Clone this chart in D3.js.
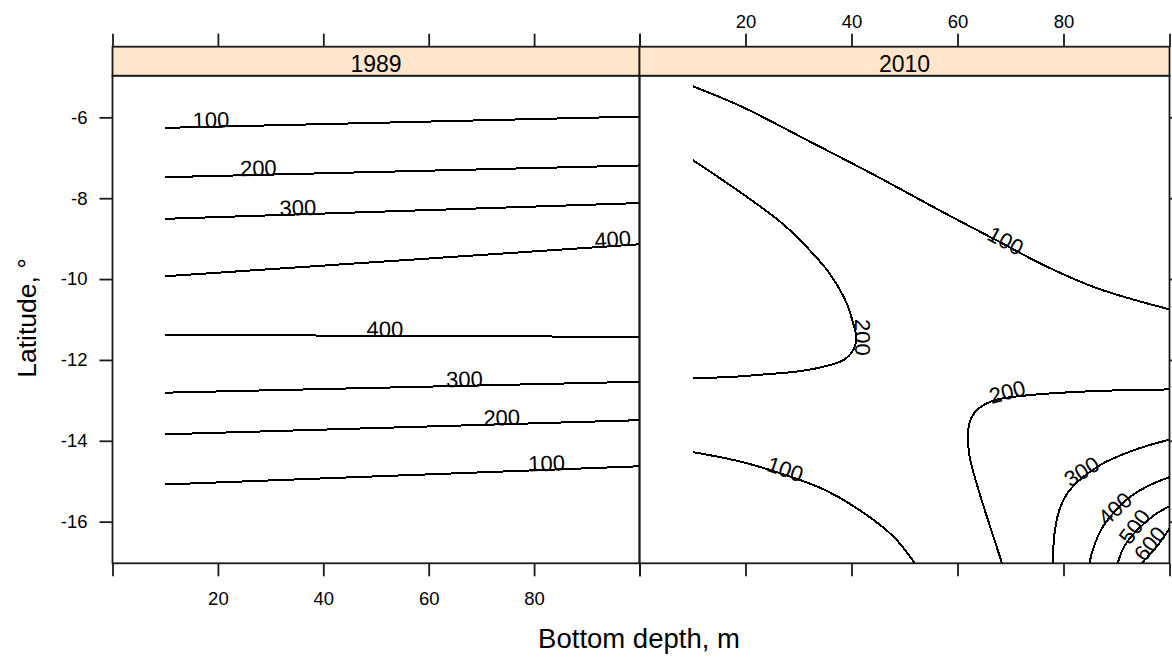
<!DOCTYPE html>
<html><head><meta charset="utf-8">
<script src="https://cdn.jsdelivr.net/npm/d3@7"></script>
<style>
body{margin:0;background:#fff}
svg text{font-family:"Liberation Sans",Arial,sans-serif;fill:#000}
</style>
</head><body>
<svg id="chart" width="1172" height="657"></svg>
<script>
// ---- data ----
const panelNames = ["1989", "2010"];
const xDomain = [0, 100];
const yDomain = [-17.03, -4.97];
const xTickValues = [0, 20, 40, 60, 80, 100];
const xTickLabels = [20, 40, 60, 80];
const yTickValues = [-6, -8, -10, -12, -14, -16];
const xTitle = "Bottom depth, m";
const yTitle = "Latitude, °";

// contour lines: [depth, latitude] points
const lines1989 = [
  {level: 100, pts: [[10, -6.26], [100, -5.98]]},
  {level: 200, pts: [[10, -7.48], [100, -7.19]]},
  {level: 300, pts: [[10, -8.51], [100, -8.12]]},
  {level: 400, pts: [[10, -9.93], [100, -9.14]]},
  {level: 400, pts: [[10, -11.38], [100, -11.43]]},
  {level: 300, pts: [[10, -12.81], [100, -12.54]]},
  {level: 200, pts: [[10, -13.84], [100, -13.49]]},
  {level: 100, pts: [[10, -15.08], [100, -14.63]]}
];
// labels: [level, depth, latitude]
const labels1989 = [
  [100, 18.7, -6.23], [200, 27.7, -7.42], [300, 35.2, -8.40], [400, 95.0, -9.18],
  [400, 51.7, -11.40], [300, 66.8, -12.64], [200, 73.9, -13.59], [100, 82.4, -14.72]
];

const lines2010 = [
  {level: 100, pts: [[10.06, -5.23], [19.2, -5.73], [32.0, -6.59], [44.8, -7.46], [57.6, -8.37], [67.2, -9.03], [76.8, -9.69], [86.4, -10.23], [100, -10.75]]},
  {level: 200, pts: [[10.06, -7.06], [19.2, -7.87], [26.9, -8.62], [32.0, -9.27], [35.8, -9.85], [39.1, -10.60], [40.3, -11.09], [40.9, -11.44], [40.3, -11.76], [38.4, -12.01], [33.3, -12.21], [28.8, -12.30], [24.3, -12.35], [17.3, -12.42], [10.06, -12.45]]},
  {level: 100, pts: [[10.06, -14.28], [19.2, -14.52], [28.8, -14.90], [35.2, -15.23], [41.6, -15.72], [48.0, -16.38], [51.9, -17.02]]},
  {level: 200, pts: [[100, -12.73], [90.9, -12.75], [82.6, -12.79], [73.6, -12.87], [67.2, -12.99], [64.0, -13.20], [62.6, -13.43], [62.1, -13.66], [62.2, -14.32], [64.0, -15.23], [66.6, -16.30], [68.4, -17.03]]},
  {level: 300, pts: [[100, -13.97], [93.1, -14.24], [86.8, -14.61], [81.1, -15.23], [79.2, -15.72], [78.3, -16.30], [78.0, -17.03]]},
  {level: 400, pts: [[100, -14.90], [95.6, -15.14], [91.8, -15.47], [87.4, -16.13], [85.5, -16.71], [84.9, -17.03]]},
  {level: 500, pts: [[100, -15.62], [96.8, -15.87], [91.8, -16.54], [90.2, -17.03]]},
  {level: 600, pts: [[100, -16.17], [97.5, -16.63], [94.7, -17.03]]}
];
const labels2010 = [
  [100, 68.5, -9.20], [200, 40.9, -11.44], [100, 27.1, -14.86], [200, 69.7, -12.95],
  [300, 84.1, -14.90], [400, 90.6, -15.80], [500, 94.4, -16.22], [600, 97.3, -16.65]
];

// ---- layout ----
const svg = d3.select("#chart");
const panelTop = 75.7, panelBottom = 563.3, stripTop = 46.7;
const panelX = [[112.5, 639.5], [639.5, 1169.5]];
const y = d3.scaleLinear().domain(yDomain).range([panelBottom, panelTop]);
const tickLen = 13;
const panelLines = [lines1989, lines2010];
const panelLabels = [labels1989, labels2010];
const frame = "#1a1a1a";

const defs = svg.append("defs");

panelNames.forEach((name, i) => {
  const x = d3.scaleLinear().domain(xDomain).range(panelX[i]);
  const g = svg.append("g");
  const w = panelX[i][1] - panelX[i][0];

  defs.append("clipPath").attr("id", "clip" + i)
    .append("rect").attr("x", panelX[i][0]).attr("y", panelTop).attr("width", w).attr("height", panelBottom - panelTop);

  // contour lines
  const line = d3.line().x(d => x(d[0])).y(d => y(d[1]))
    .curve(i === 0 ? d3.curveLinear : d3.curveCatmullRom.alpha(0.5));
  const cg = g.append("g").attr("clip-path", `url(#clip${i})`);
  cg.selectAll("path").data(panelLines[i]).join("path")
    .attr("d", d => line(d.pts))
    .attr("fill", "none").attr("stroke", "#000").attr("stroke-width", 2)
    .attr("shape-rendering", "crispEdges");

  // labels, rotated along the nearest line
  panelLabels[i].forEach(([lev, dx, dy]) => {
    const ax = x(dx), ay = y(dy);
    let best = null;
    panelLines[i].filter(l => l.level === lev).forEach(l => {
      const p = l.pts.map(q => [x(q[0]), y(q[1])]);
      p.forEach((q, k) => {
        const dd = (q[0] - ax) ** 2 + (q[1] - ay) ** 2;
        if (!best || dd < best.dd) {
          const a = p[Math.max(k - 1, 0)], b = p[Math.min(k + 1, p.length - 1)];
          best = {dd, ang: Math.atan2(b[1] - a[1], b[0] - a[0]) * 180 / Math.PI};
        }
      });
    });
    let ang = best ? best.ang : 0;
    while (ang > 90) ang -= 180;
    while (ang <= -90) ang += 180;
    g.append("text").attr("transform", `translate(${ax},${ay}) rotate(${ang})`)
      .attr("y", 1).attr("text-anchor", "middle").attr("font-size", 22).text(lev);
  });

  // panel border
  g.append("rect").attr("x", panelX[i][0]).attr("y", panelTop).attr("width", w).attr("height", panelBottom - panelTop)
    .attr("fill", "none").attr("stroke", frame).attr("stroke-width", 1.8);

  // strip
  g.append("rect").attr("x", panelX[i][0]).attr("y", stripTop).attr("width", w).attr("height", panelTop - stripTop)
    .attr("fill", "#ffe5cc").attr("stroke", frame).attr("stroke-width", 1.8);
  g.append("text").attr("x", (panelX[i][0] + panelX[i][1]) / 2).attr("y", 71.5)
    .attr("text-anchor", "middle").attr("font-size", 23).text(name);

  // bottom axis (labels on first panel only)
  const bottom = d3.axisBottom(x).tickValues(xTickValues).tickSize(tickLen).tickPadding(15.5)
    .tickFormat(d => (i === 0 && xTickLabels.includes(d)) ? d : "");
  const bg = svg.append("g").attr("transform", `translate(0,${panelBottom})`).call(bottom);
  // top axis (labels on second panel only)
  const top = d3.axisTop(x).tickValues(xTickValues).tickSize(tickLen).tickPadding(6)
    .tickFormat(d => (i === 1 && xTickLabels.includes(d)) ? d : "");
  const tg = svg.append("g").attr("transform", `translate(0,${stripTop})`).call(top);
  [bg, tg].forEach(a => {
    a.select(".domain").remove();
    a.selectAll("line").attr("stroke", frame).attr("stroke-width", 1.8);
    a.selectAll("text").attr("font-size", 18.5).attr("font-family", "Liberation Sans, Arial, sans-serif").attr("fill", "#000");
  });
});

// left and right y axes
const left = d3.axisLeft(y).tickValues(yTickValues).tickSize(tickLen).tickPadding(12).tickFormat(d3.format("d"));
const lg = svg.append("g").attr("transform", `translate(${panelX[0][0]},0)`).call(left);
const right = d3.axisRight(y).tickValues(yTickValues).tickSize(tickLen).tickFormat("");
const rg = svg.append("g").attr("transform", `translate(${panelX[1][1]},0)`).call(right);
[lg, rg].forEach(a => {
  a.select(".domain").remove();
  a.selectAll("line").attr("stroke", frame).attr("stroke-width", 1.8);
  a.selectAll("text").attr("font-size", 18.5).attr("font-family", "Liberation Sans, Arial, sans-serif").attr("fill", "#000");
});
lg.selectAll("text").text(d => String(d).replace("−", "-"));

// axis titles
svg.append("text").attr("x", 639).attr("y", 648).attr("text-anchor", "middle").attr("font-size", 27.5).text(xTitle);
svg.append("text").attr("transform", "translate(36,318) rotate(-90)").attr("text-anchor", "middle").attr("font-size", 26.5).text(yTitle);
</script>
</body></html>
